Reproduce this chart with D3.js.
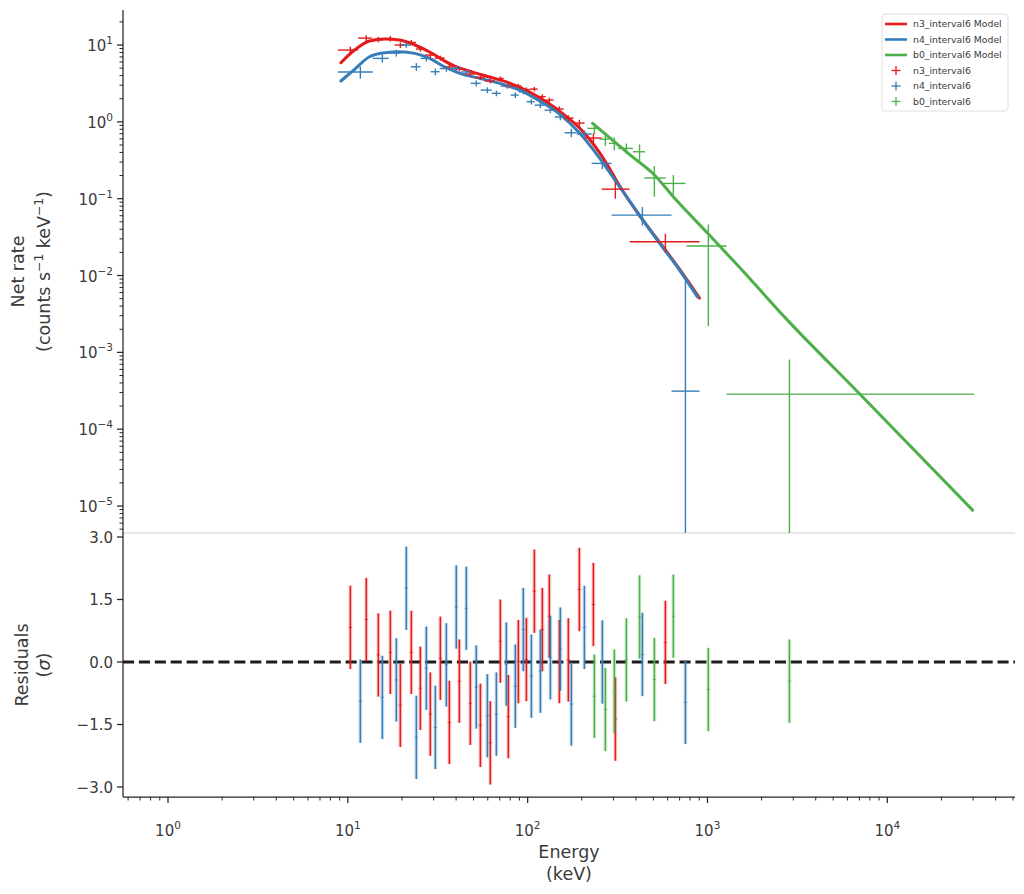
<!DOCTYPE html>
<html><head><meta charset="utf-8">
<script src="https://cdn.jsdelivr.net/npm/d3@7"></script>
<style>body{margin:0;background:#fff;} text{font-family:"DejaVu Sans",sans-serif;}</style>
</head><body><svg id="c" width="1024" height="894"></svg>
<script>
// ---------------- DATA ----------------
const seriesNames = ["n3_interval6","n4_interval6","b0_interval6"];
const colors = ["#e41a1c","#377eb8","#4daf4a"];

// n3 (red)
const n3E     = [10.33,12.67,14.78,17.24,19.59,22.55,25.31,28.76,32.7,36.7,41.7,48.0,54.6,62.0,70.5,78.1,88.8,98.4,109.0,120.7,132.0,150.1,168.4,193.9,232.0,307.5,583.4];
const n3Edges = [8.8,11.4,13.6,15.9,18.2,21.0,23.9,26.8,30.4,34.6,38.8,44.7,50.8,57.7,65.6,73.6,82.6,92.6,102.6,113.6,125.9,139.4,158.5,180,207,258,369,903];
const n3Rate  = [8.6,12.3,11.8,12.1,10.0,10.8,8.87,7.4,6.77,5.17,4.87,4.19,3.77,3.4,3.66,2.92,2.92,2.63,2.67,2.13,1.92,1.47,1.12,0.964,0.616,0.133,0.0275];
const n3Err   = [0.9,1.1,1.0,1.0,0.85,0.85,0.7,0.6,0.5,0.4,0.35,0.3,0.27,0.24,0.25,0.2,0.2,0.18,0.18,0.15,0.14,0.12,0.1,0.1,0.09,0.033,0.0075];
const n3Resid = [0.83,1.02,0.17,0.23,-1.04,0.23,-0.63,-1.25,0.09,-1.45,-0.46,-0.99,-1.52,-1.94,0.50,-1.31,0.01,0.06,1.70,0.78,1.10,0.01,0.05,1.74,1.38,-1.37,0.47];
const n3ModelE = [9.15,10.9,13.2,16.1,19.4,23.6,28.5,34.6,39.3,47.6,61.5,79.4,102.6,132.5,160.6,194.5,229.6,273.7,324.3,419,541,699,903];
const n3ModelR = [5.88,8.6,11.3,11.96,11.6,10.0,8.1,6.18,5.32,4.58,3.83,3.2,2.44,1.71,1.226,0.83,0.53,0.291,0.147,0.0600,0.0272,0.0121,0.00509];

// n4 (blue)
const n4E     = [11.74,15.56,18.61,21.15,24.04,27.33,30.67,35.3,40.1,45.6,51.8,59.7,67.0,76.1,85.4,94.6,104.9,117.7,133.8,152.0,175.0,206.8,260.3,434.5,753.9];
const n4Edges = [8.8,13.77,16.9,19.7,22.4,25.4,28.9,32.4,37.3,42.4,48.2,54.8,63.1,70.8,80.5,89.1,98.7,109.3,124.2,141.3,160.6,187.1,226.8,292.9,631,903];
const n4Rate  = [4.45,6.70,7.86,9.99,5.21,6.70,4.49,4.94,4.97,4.45,3.17,2.59,2.35,2.92,2.23,2.46,1.83,1.65,1.42,1.16,0.721,0.694,0.288,0.0612,0.000313];
const n4Err   = [0.8,0.8,0.8,0.8,0.6,0.6,0.45,0.45,0.4,0.35,0.28,0.23,0.2,0.2,0.19,0.18,0.15,0.14,0.12,0.11,0.09,0.08,0.045,0.0165,0.0084];
const n4Resid = [-0.94,-0.85,-0.43,1.77,-1.81,-0.15,-1.57,-0.07,1.32,1.29,-0.60,-1.29,-1.25,-0.05,-0.58,0.78,-0.34,-0.22,0.10,0.31,-1.01,0.83,0.00,0.18,-0.97];
const n4ModelE = [9.15,10.9,13.2,16.1,19.4,23.6,28.5,34.6,41.9,54.1,69.9,90.3,116.6,150.6,194.5,251,324.3,419,541,699,880];
const n4ModelR = [3.40,4.82,7.03,7.93,8.17,7.79,6.70,5.17,4.28,3.68,3.17,2.59,1.87,1.263,0.715,0.338,0.143,0.0611,0.0264,0.01178,0.00525];

// b0 (green)
const b0E     = [235,270.5,303.5,353.9,419,506.6,646,1011,2856];
const b0Lo    = [215,251,283,318,385,446,555,764,1276];
const b0Hi    = [251,283,318,385,449,585,755,1276,30400];
const b0Rate  = [0.823,0.597,0.525,0.452,0.408,0.186,0.158,0.0242,0.000286];
const b0Err   = [0.13,0.11,0.10,0.07,0.10,0.08,0.045,0.022,0.00052];
const b0Resid = [-0.82,-1.14,-0.70,0.05,1.08,-0.42,1.10,-0.66,-0.46];
const b0ModelE = [229.6,296.6,382.8,494,670,1000,1506,2735,6985,29800];
const b0ModelR = [0.956,0.58,0.351,0.216,0.096,0.0357,0.0128,0.00275,2.92e-4,8.85e-6];

// axes
const xDomain = [0.562, 51300];
const yDomain = [4.46e-6, 28.55];
const rDomain = [-3.24, 3.096];
const xTicks = [1,10,100,1000,10000];
const yTicks = [10,1,0.1,0.01,0.001,1e-4,1e-5];
const rTicks = [3.0,1.5,0.0,-1.5,-3.0];

// ---------------- LAYOUT ----------------
const L=123, R=1015, T=10, M=533, B=797;
const svg = d3.select("#c");
const x = d3.scaleLog().domain(xDomain).range([L,R]);
const y = d3.scaleLog().domain(yDomain).range([M,T]);
const yr = d3.scaleLinear().domain(rDomain).range([B,M]);
const ink = "#262626", txt = "#3a3a3a";

svg.append("defs").html(`<clipPath id="cpTop"><rect x="${L}" y="${T}" width="${R-L}" height="${M-T}"/></clipPath>
<clipPath id="cpRes"><rect x="${L}" y="${M}" width="${R-L}" height="${B-M}"/></clipPath>`);

const series = [
  {name:seriesNames[0], color:colors[0], E:n3E, lo:n3Edges.slice(0,-1), hi:n3Edges.slice(1), rate:n3Rate, err:n3Err, res:n3Resid, mE:n3ModelE, mR:n3ModelR},
  {name:seriesNames[1], color:colors[1], E:n4E, lo:n4Edges.slice(0,-1), hi:n4Edges.slice(1), rate:n4Rate, err:n4Err, res:n4Resid, mE:n4ModelE, mR:n4ModelR},
  {name:seriesNames[2], color:colors[2], E:b0E, lo:b0Lo, hi:b0Hi, rate:b0Rate, err:b0Err, res:b0Resid, mE:b0ModelE, mR:b0ModelR}
];

svg.append("line").attr("x1",L).attr("x2",R).attr("y1",M).attr("y2",M).attr("stroke","#d0d0d0").attr("stroke-width",1);

const gTop = svg.append("g").attr("clip-path","url(#cpTop)");
const line = d3.line().x(d=>x(d[0])).y(d=>y(d[1])).curve(d3.curveMonotoneX);
series.forEach(s=>{
  gTop.append("path").attr("d", line(s.mE.map((e,i)=>[e,s.mR[i]])))
    .attr("fill","none").attr("stroke",s.color).attr("stroke-width",3).attr("stroke-linecap","round");
});
const safeLow = v => v>0 ? y(v) : M+5;
series.forEach(s=>{
  const g = gTop.append("g").attr("stroke",s.color).attr("stroke-width",1.4);
  s.E.forEach((e,i)=>{
    g.append("line").attr("x1",x(s.lo[i])).attr("x2",x(s.hi[i])).attr("y1",y(s.rate[i])).attr("y2",y(s.rate[i]));
    g.append("line").attr("x1",x(e)).attr("x2",x(e)).attr("y1",y(s.rate[i]+s.err[i])).attr("y2",safeLow(s.rate[i]-s.err[i]));
  });
});

const gRes = svg.append("g").attr("clip-path","url(#cpRes)");
gRes.append("line").attr("x1",L).attr("x2",R).attr("y1",yr(0)).attr("y2",yr(0))
  .attr("stroke","#1c1c1c").attr("stroke-width",3).attr("stroke-dasharray","11.1,4.8");
series.forEach(s=>{
  const g = gRes.append("g");
  s.E.forEach((e,i)=>{
    const xx = x(e);
    g.append("line").attr("x1",xx).attr("x2",xx).attr("y1",yr(s.res[i]+1)).attr("y2",yr(s.res[i]-1))
      .attr("stroke",s.color).attr("stroke-width",4).attr("stroke-opacity",0.18);
    g.append("line").attr("x1",xx).attr("x2",xx).attr("y1",yr(s.res[i]+1)).attr("y2",yr(s.res[i]-1))
      .attr("stroke",s.color).attr("stroke-width",1.6);
    g.append("line").attr("x1",xx-1.8).attr("x2",xx+1.8).attr("y1",yr(s.res[i])).attr("y2",yr(s.res[i]))
      .attr("stroke",s.color).attr("stroke-width",1).attr("stroke-opacity",0.7);
  });
});

svg.append("line").attr("x1",L).attr("x2",L).attr("y1",T).attr("y2",B).attr("stroke",ink).attr("stroke-width",1.25);
svg.append("line").attr("x1",L).attr("x2",R).attr("y1",B).attr("y2",B).attr("stroke",ink).attr("stroke-width",1.25);

function supLabel(sel, base, exp){
  sel.append("tspan").text(base);
  sel.append("tspan").text(exp).attr("font-size","70%").attr("dy",-7);
}
const fmtExp = v => { const e=Math.round(Math.log10(v)); return (e<0?"\u2212":"")+Math.abs(e); };

const xMinor=[];
for(let k=-1;k<=4;k++) for(let m=2;m<=9;m++){ const v=m*Math.pow(10,k); if(v>=xDomain[0]&&v<=xDomain[1]) xMinor.push(v); }
xMinor.forEach(v=>svg.append("line").attr("x1",x(v)).attr("x2",x(v)).attr("y1",B).attr("y2",B+3.5).attr("stroke",ink).attr("stroke-width",1));
xTicks.forEach(v=>{
  svg.append("line").attr("x1",x(v)).attr("x2",x(v)).attr("y1",B).attr("y2",B+6).attr("stroke",ink).attr("stroke-width",1.25);
  const t = svg.append("text").attr("x",x(v)).attr("y",B+39).attr("text-anchor","middle").attr("font-size",15).attr("fill",txt);
  supLabel(t,"10",fmtExp(v));
});

const yMinor=[];
for(let k=-6;k<=1;k++) for(let m=2;m<=9;m++){ const v=m*Math.pow(10,k); if(v>=yDomain[0]&&v<=yDomain[1]) yMinor.push(v); }
yMinor.forEach(v=>svg.append("line").attr("x1",L-3.5).attr("x2",L).attr("y1",y(v)).attr("y2",y(v)).attr("stroke",ink).attr("stroke-width",1));
yTicks.forEach(v=>{
  svg.append("line").attr("x1",L-6).attr("x2",L).attr("y1",y(v)).attr("y2",y(v)).attr("stroke",ink).attr("stroke-width",1.25);
  const t = svg.append("text").attr("x",L-10).attr("y",y(v)+6).attr("text-anchor","end").attr("font-size",15).attr("fill",txt);
  supLabel(t,"10",fmtExp(v));
});
rTicks.forEach(v=>{
  svg.append("line").attr("x1",L-6).attr("x2",L).attr("y1",yr(v)).attr("y2",yr(v)).attr("stroke",ink).attr("stroke-width",1.25);
  svg.append("text").attr("x",L-10).attr("y",yr(v)+5.5).attr("text-anchor","end").attr("font-size",15).attr("fill",txt)
    .text(d3.format(".1f")(v).replace("-","\u2212"));
});

const lab = (xx,yy,rot)=> svg.append("text").attr("transform",`translate(${xx},${yy}) rotate(${rot})`).attr("text-anchor","middle").attr("font-size",17.5).attr("fill",txt);
lab(24,(T+M)/2,-90).text("Net rate");
const yl2 = lab(50,(T+M)/2,-90);
yl2.append("tspan").text("(counts s");
yl2.append("tspan").text("\u22121").attr("font-size","70%").attr("dy",-7);
yl2.append("tspan").text(" keV").attr("dy",7);
yl2.append("tspan").text("\u22121").attr("font-size","70%").attr("dy",-7);
yl2.append("tspan").text(")").attr("dy",7);
lab(28,(M+B)/2,-90).text("Residuals");
const sl = lab(50,(M+B)/2,-90);
sl.append("tspan").text("(");
sl.append("tspan").text("\u03c3").attr("font-style","italic");
sl.append("tspan").text(")");
lab((L+R)/2,858,0).text("Energy");
lab((L+R)/2,880,0).text("(keV)");

const lg = svg.append("g");
lg.append("rect").attr("x",882).attr("y",14).attr("width",126).attr("height",97).attr("rx",3)
  .attr("fill","#fff").attr("fill-opacity",0.8).attr("stroke","#e0e0e0");
series.forEach((s,i)=>{
  const yy = 24 + i*15.5;
  lg.append("line").attr("x1",885).attr("x2",907).attr("y1",yy).attr("y2",yy).attr("stroke",s.color).attr("stroke-width",2.6);
  lg.append("text").attr("x",913).attr("y",yy+3.2).attr("font-size",9.3).attr("fill",txt).text(s.name+" Model");
});
series.forEach((s,i)=>{
  const yy = 24 + (i+3)*15.5;
  lg.append("line").attr("x1",891.5).attr("x2",900.5).attr("y1",yy).attr("y2",yy).attr("stroke",s.color).attr("stroke-width",1.3);
  lg.append("line").attr("x1",896).attr("x2",896).attr("y1",yy-4.5).attr("y2",yy+4.5).attr("stroke",s.color).attr("stroke-width",1.3);
  lg.append("text").attr("x",913).attr("y",yy+3.2).attr("font-size",9.3).attr("fill",txt).text(s.name);
});
</script></body></html>
